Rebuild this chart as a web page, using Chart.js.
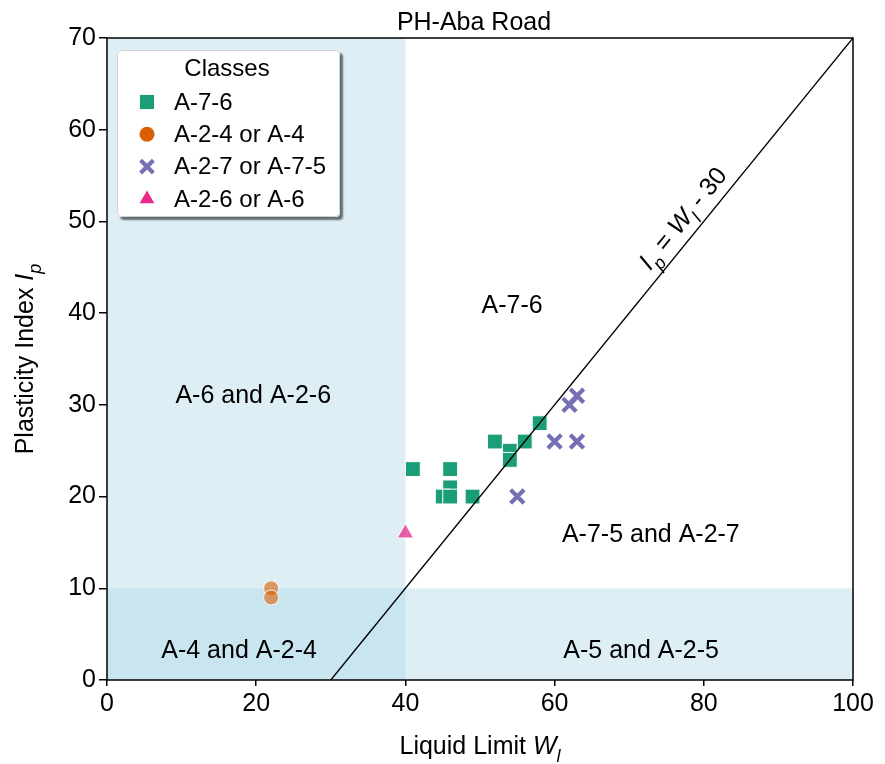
<!DOCTYPE html>
<html>
<head>
<meta charset="utf-8">
<script src="https://cdn.jsdelivr.net/npm/chart.js@4/dist/chart.umd.min.js"></script>
<style>
  html, body { margin: 0; padding: 0; background: #fff; }
  #wrap { width: 885px; height: 764px; }
</style>
</head>
<body>
<div id="wrap"><canvas id="c" width="885" height="764"></canvas></div>
<script>
// ---- data ----
const chartTitle = 'PH-Aba Road';
const classNames = ['A-7-6', 'A-2-4 or A-4', 'A-2-7 or A-7-5', 'A-2-6 or A-6'];

const a76Liquid   = [41, 46, 46, 45, 46, 49, 52, 54, 54, 56, 58];
const a76Plastic  = [23, 23, 21, 20, 20, 20, 26, 25, 24, 26, 28];
const a24Liquid   = [22, 22];
const a24Plastic  = [10, 9];
const a27Liquid   = [55, 60, 62, 63, 63];
const a27Plastic  = [20, 26, 30, 31, 26];
const a26Liquid   = [40];
const a26Plastic  = [16];

// A-line boundary  Ip = Wl - 30
const boundaryLiquid  = [30, 100];
const boundaryPlastic = [0, 70];

const xTicks = [0, 20, 40, 60, 80, 100];
const yTicks = [0, 10, 20, 30, 40, 50, 60, 70];

// zone labels: text, liquid limit, plasticity index
const zoneNames = ['A-7-6', 'A-6 and A-2-6', 'A-7-5 and A-2-7', 'A-4 and A-2-4', 'A-5 and A-2-5'];
const zoneLiquid  = [54.3, 19.6, 72.9, 17.7, 71.6];
const zonePlastic = [40.8, 30.9, 15.8, 3.2, 3.2];

// ---- styling ----
const FONT = '"Liberation Sans", Arial, Helvetica, sans-serif';
const FS = 25;
const LEG_FS = 24;
const zip = (xs, ys) => xs.map((x, i) => ({ x: x, y: ys[i] }));

const datasets = [
  {
    label: 'boundary', type: 'scatter', showLine: true,
    data: zip(boundaryLiquid, boundaryPlastic),
    borderColor: '#000', borderWidth: 1.4, pointRadius: 0, order: 0, clip: 0
  },
  {
    label: classNames[0], data: zip(a76Liquid, a76Plastic),
    pointStyle: 'rect', pointRadius: 10.5,
    backgroundColor: '#1b9e77', borderColor: '#ffffff', borderWidth: 1,
    legendColor: '#1b9e77', legendRadius: 10, order: 1
  },
  {
    label: classNames[1], data: zip(a24Liquid, a24Plastic),
    pointStyle: 'circle', pointRadius: 7.5,
    backgroundColor: 'rgba(217,95,2,0.6)', borderColor: 'rgba(255,255,255,0.9)', borderWidth: 1,
    legendColor: '#d95f02', legendRadius: 7.5, order: 1
  },
  {
    label: classNames[2], data: zip(a27Liquid, a27Plastic),
    pointStyle: 'crossRot', pointRadius: 9.5,
    backgroundColor: '#7570b3', borderColor: '#7570b3', borderWidth: 4.2,
    legendColor: '#7570b3', legendRadius: 9, order: 1
  },
  {
    label: classNames[3], data: zip(a26Liquid, a26Plastic),
    pointStyle: 'triangle', pointRadius: 9.5,
    backgroundColor: 'rgba(231,41,138,0.75)', borderColor: '#ffffff', borderWidth: 1,
    legendColor: '#e7298a', legendRadius: 8.5, order: 1
  }
];

// draw a string made of plain / italic / subscript pieces
function richWidth(ctx, parts, size) {
  let w = 0;
  parts.forEach(p => {
    const s = p.sub ? size * 0.72 : size;
    ctx.font = (p.italic ? 'italic ' : '') + s + 'px ' + FONT;
    w += ctx.measureText(p.t).width;
  });
  return w;
}
function drawRich(ctx, parts, x, y, size) {
  // x is the start, y is the baseline
  let cx = x;
  parts.forEach(p => {
    const s = p.sub ? size * 0.72 : size;
    ctx.font = (p.italic ? 'italic ' : '') + s + 'px ' + FONT;
    ctx.fillText(p.t, cx, p.sub ? y + size * 0.32 : y);
    cx += ctx.measureText(p.t).width;
  });
}

const zonesPlugin = {
  id: 'zones',
  beforeDatasetsDraw(chart) {
    const { ctx, chartArea: a, scales: { x, y } } = chart;
    ctx.save();
    ctx.fillStyle = 'rgba(173,216,230,0.42)';
    // Wl <= 40
    ctx.fillRect(a.left, a.top, x.getPixelForValue(40) - a.left, a.bottom - a.top);
    // Ip <= 10
    const y10 = y.getPixelForValue(10);
    ctx.fillRect(a.left, y10, a.right - a.left, a.bottom - y10);

    ctx.fillStyle = '#000';
    ctx.font = FS + 'px ' + FONT;
    ctx.textAlign = 'center';
    ctx.textBaseline = 'middle';
    zoneNames.forEach((n, i) => {
      ctx.fillText(n, x.getPixelForValue(zoneLiquid[i]), y.getPixelForValue(zonePlastic[i]));
    });
    ctx.restore();
  },
  afterDraw(chart) {
    const { ctx, chartArea: a, scales: { x, y } } = chart;
    ctx.save();
    // frame
    ctx.strokeStyle = '#000';
    ctx.lineWidth = 1.5;
    ctx.strokeRect(a.left, a.top, a.right - a.left, a.bottom - a.top);

    // title
    ctx.fillStyle = '#000';
    ctx.font = FS + 'px ' + FONT;
    ctx.textAlign = 'center';
    ctx.textBaseline = 'alphabetic';
    ctx.fillText(chartTitle, (a.left + a.right) / 2 - 6, 30);

    ctx.textAlign = 'left';
    // x axis title
    const xt = [{ t: 'Liquid Limit ' }, { t: 'W', italic: true }, { t: 'l', italic: true, sub: true }];
    const xw = richWidth(ctx, xt, FS);
    drawRich(ctx, xt, (a.left + a.right) / 2 - xw / 2, 754, FS);

    // y axis title
    const yt = [{ t: 'Plasticity Index ' }, { t: 'I', italic: true }, { t: 'p', italic: true, sub: true }];
    const yw = richWidth(ctx, yt, FS);
    ctx.save();
    ctx.translate(33, (a.top + a.bottom) / 2);
    ctx.rotate(-Math.PI / 2);
    drawRich(ctx, yt, -yw / 2, 0, FS);
    ctx.restore();

    // boundary equation along the line
    const lt = [{ t: 'I', italic: true }, { t: 'p', italic: true, sub: true }, { t: ' = ' },
                { t: 'W', italic: true }, { t: 'l', italic: true, sub: true }, { t: ' - 30' }];
    const px0 = x.getPixelForValue(30), py0 = y.getPixelForValue(0);
    const px1 = x.getPixelForValue(100), py1 = y.getPixelForValue(70);
    const ang = Math.atan2(py1 - py0, px1 - px0);
    const lw = richWidth(ctx, lt, FS);
    ctx.save();
    ctx.translate(x.getPixelForValue(77.1), y.getPixelForValue(50.4));
    ctx.rotate(ang);
    drawRich(ctx, lt, -lw / 2, FS * 0.36, FS);
    ctx.restore();

    // legend box
    const bx = 117, by = 50, bw = 223, bh = 167;
    ctx.save();
    ctx.shadowColor = 'rgba(0,0,0,0.55)';
    ctx.shadowOffsetX = 3;
    ctx.shadowOffsetY = 3;
    ctx.shadowBlur = 2;
    ctx.fillStyle = '#fff';
    ctx.beginPath();
    ctx.roundRect(bx, by, bw, bh, 4);
    ctx.fill();
    ctx.restore();
    ctx.strokeStyle = '#d0d0d0';
    ctx.lineWidth = 1;
    ctx.beginPath();
    ctx.roundRect(bx + 0.5, by + 0.5, bw - 1, bh - 1, 4);
    ctx.stroke();

    ctx.fillStyle = '#000';
    ctx.font = LEG_FS + 'px ' + FONT;
    ctx.textAlign = 'center';
    ctx.textBaseline = 'middle';
    ctx.fillText('Classes', 227, 69);
    ctx.textAlign = 'left';
    chart.data.datasets.slice(1).forEach((ds, i) => {
      const cy = 102 + i * 32.3;
      const col = ds.legendColor;
      const cross = ds.pointStyle === 'crossRot';
      ctx.fillStyle = col;
      ctx.strokeStyle = col;
      ctx.lineWidth = cross ? ds.borderWidth : 0.01;
      Chart.helpers.drawPoint(ctx, {
        pointStyle: ds.pointStyle, radius: ds.legendRadius,
        borderWidth: cross ? ds.borderWidth : 0
      }, 147, cy);
      ctx.fillStyle = '#000';
      ctx.font = LEG_FS + 'px ' + FONT;
      ctx.fillText(ds.label, 174, cy + 1);
    });
    ctx.restore();
  }
};

new Chart(document.getElementById('c'), {
  type: 'scatter',
  data: { datasets: datasets },
  options: {
    responsive: false,
    animation: false,
    devicePixelRatio: 1,
    events: [],
    layout: { padding: { top: 38, right: 32, left: 0, bottom: 0 } },
    plugins: { legend: { display: false }, title: { display: false }, tooltip: { enabled: false } },
    scales: {
      x: {
        type: 'linear', min: 0, max: 100,
        afterBuildTicks: s => { s.ticks = xTicks.map(v => ({ value: v })); },
        afterFit: s => { s.height = 84; },
        ticks: { color: '#000', font: { family: FONT, size: FS }, padding: 3, maxRotation: 0 },
        grid: { drawOnChartArea: false, drawTicks: true, tickLength: 6, color: '#000', lineWidth: 1.5 },
        border: { display: false }
      },
      y: {
        type: 'linear', min: 0, max: 70,
        afterBuildTicks: s => { s.ticks = yTicks.map(v => ({ value: v })); },
        afterFit: s => { s.width = 107; },
        ticks: { color: '#000', font: { family: FONT, size: FS }, padding: 3 },
        grid: { drawOnChartArea: false, drawTicks: true, tickLength: 8, color: '#000', lineWidth: 1.5 },
        border: { display: false }
      }
    }
  },
  plugins: [zonesPlugin]
});
</script>
</body>
</html>
